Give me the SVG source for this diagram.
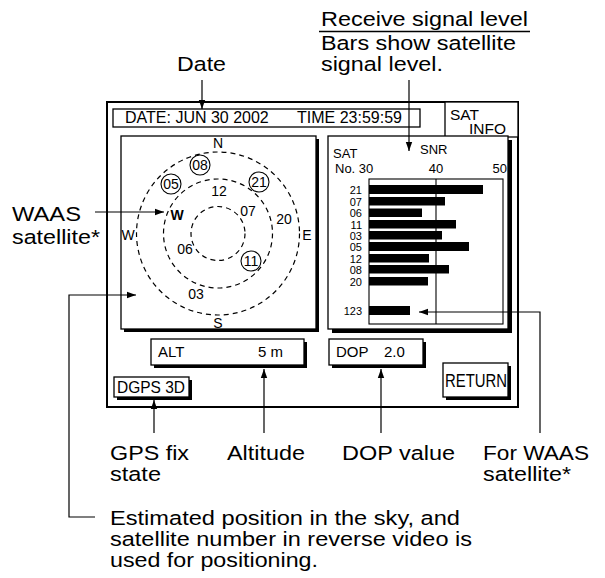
<svg xmlns="http://www.w3.org/2000/svg" width="605" height="578" viewBox="0 0 605 578">
<defs>
<style>
text{font-family:"Liberation Sans",Arial,sans-serif;fill:#000}
.lbl{font-size:20.5px}
.scr{font-size:16px}
.sky{font-size:14px;text-anchor:middle}
.bl{font-size:11px;text-anchor:end}
.hd{font-size:13px}
.frame{fill:#fff;stroke:#000;stroke-width:2}
.box{fill:#fff;stroke:#000;stroke-width:1.3}
.shadow{fill:#000}
.dash{fill:none;stroke:#000;stroke-width:1.2;stroke-dasharray:5 4}
.sat{fill:#fff;stroke:#000;stroke-width:1.1}
.bar{fill:#000}
.conn{fill:none;stroke:#000;stroke-width:1.2}
</style>
<marker id="ah" markerUnits="userSpaceOnUse" markerWidth="10" markerHeight="8" refX="9" refY="4" orient="auto">
<path d="M0,0.8 L9,4 L0,7.2 Z" fill="#000"/>
</marker>
</defs>
<rect width="605" height="578" fill="#fff"/>

<g id="labels">
<text class="lbl" x="177" y="71" textLength="49" lengthAdjust="spacingAndGlyphs">Date</text>
<text class="lbl" x="321" y="26" textLength="207" lengthAdjust="spacingAndGlyphs">Receive signal level</text>
<line x1="319" y1="31.5" x2="530" y2="31.5" stroke="#000" stroke-width="1.3"/>
<text class="lbl" x="321" y="50" textLength="195" lengthAdjust="spacingAndGlyphs">Bars show satellite</text>
<text class="lbl" x="321" y="71" textLength="122" lengthAdjust="spacingAndGlyphs">signal level.</text>
<text class="lbl" x="12" y="221" textLength="69" lengthAdjust="spacingAndGlyphs">WAAS</text>
<text class="lbl" x="12" y="244" textLength="88" lengthAdjust="spacingAndGlyphs">satellite*</text>
<text class="lbl" x="110" y="460" textLength="79" lengthAdjust="spacingAndGlyphs">GPS fix</text>
<text class="lbl" x="110" y="481" textLength="51" lengthAdjust="spacingAndGlyphs">state</text>
<text class="lbl" x="227" y="460" textLength="78" lengthAdjust="spacingAndGlyphs">Altitude</text>
<text class="lbl" x="342" y="460" textLength="113" lengthAdjust="spacingAndGlyphs">DOP value</text>
<text class="lbl" x="483" y="460" textLength="106" lengthAdjust="spacingAndGlyphs">For WAAS</text>
<text class="lbl" x="483" y="481" textLength="88" lengthAdjust="spacingAndGlyphs">satellite*</text>
<text class="lbl" x="110" y="525" textLength="350" lengthAdjust="spacingAndGlyphs">Estimated position in the sky, and</text>
<text class="lbl" x="110" y="546" textLength="362" lengthAdjust="spacingAndGlyphs">satellite number in reverse video is</text>
<text class="lbl" x="110" y="567" textLength="208" lengthAdjust="spacingAndGlyphs">used for positioning.</text>
</g>

<g id="screen">
<rect class="frame" x="107" y="102" width="411" height="305"/>
</g>

<g id="date-box">
<rect class="box" x="113" y="109" width="307" height="18"/>
<text class="scr" x="125" y="123">DATE: JUN 30 2002</text>
<text class="scr" x="297" y="123">TIME 23:59:59</text>
</g>

<g id="sat-info">
<rect class="box" x="445" y="102" width="73" height="35"/>
<text x="450" y="120" style="font-size:15.5px" textLength="29" lengthAdjust="spacingAndGlyphs">SAT</text>
<text x="469" y="134" style="font-size:15.5px" textLength="37" lengthAdjust="spacingAndGlyphs">INFO</text>
</g>

<g id="sky-plot">
<rect class="shadow" x="124" y="139" width="195" height="193"/>
<rect class="box" x="121" y="136" width="195" height="193"/>
<circle class="dash" cx="218" cy="233.5" r="81.5"/>
<circle class="dash" cx="218" cy="233.5" r="54.5"/>
<circle class="dash" cx="218" cy="233.5" r="27"/>
<text class="sky" x="218" y="148">N</text>
<text class="sky" x="218" y="328">S</text>
<text class="sky" x="128" y="240">W</text>
<text class="sky" x="307" y="240">E</text>
<circle class="sat" cx="200" cy="165" r="10"/>
<text class="sky" x="200" y="170">08</text>
<circle class="sat" cx="171" cy="184" r="10"/>
<text class="sky" x="171" y="189">05</text>
<circle class="sat" cx="259" cy="182" r="10"/>
<text class="sky" x="259" y="187">21</text>
<circle class="sat" cx="251" cy="261" r="10"/>
<text class="sky" x="251" y="266">11</text>
<text class="sky" x="219" y="196">12</text>
<text class="sky" x="248" y="216">07</text>
<text class="sky" x="284" y="224">20</text>
<text class="sky" x="177" y="220" font-weight="bold">W</text>
<text class="sky" x="185" y="254">06</text>
<text class="sky" x="196" y="299">03</text>
</g>

<g id="snr-chart">
<rect class="shadow" x="332" y="140" width="180" height="193"/>
<rect class="box" x="328" y="136" width="180" height="193"/>
<text class="hd" x="333" y="158">SAT</text>
<text class="hd" x="335" y="173">No. 30</text>
<text class="hd" x="420" y="154">SNR</text>
<text class="hd" x="436" y="173" text-anchor="middle">40</text>
<text class="hd" x="507" y="173" text-anchor="end">50</text>
<rect x="369" y="179" width="134" height="145" fill="none" stroke="#000" stroke-width="1.1"/>
<line x1="436" y1="179" x2="436" y2="324" stroke="#000" stroke-width="1.1"/>
<rect class="bar" x="369" y="185" width="114" height="9"/>
<rect class="bar" x="369" y="197" width="76" height="8.5"/>
<rect class="bar" x="369" y="208.5" width="53" height="8.5"/>
<rect class="bar" x="369" y="220" width="87" height="8.5"/>
<rect class="bar" x="369" y="231" width="73" height="8.5"/>
<rect class="bar" x="369" y="242" width="100" height="9"/>
<rect class="bar" x="369" y="254" width="60" height="8.5"/>
<rect class="bar" x="369" y="265" width="80" height="8.5"/>
<rect class="bar" x="369" y="277" width="59" height="8.5"/>
<rect class="bar" x="369" y="306" width="41" height="9"/>
<text class="bl" x="362" y="194">21</text>
<text class="bl" x="362" y="205.5">07</text>
<text class="bl" x="362" y="217">06</text>
<text class="bl" x="362" y="228.5">11</text>
<text class="bl" x="362" y="239.5">03</text>
<text class="bl" x="362" y="251">05</text>
<text class="bl" x="362" y="262.5">12</text>
<text class="bl" x="362" y="273.5">08</text>
<text class="bl" x="362" y="285.5">20</text>
<text class="bl" x="362" y="315">123</text>
</g>

<g id="alt-box">
<rect class="shadow" x="154" y="342" width="153" height="26"/>
<rect class="box" x="151" y="339" width="153" height="26"/>
<text x="158" y="357" style="font-size:15px">ALT</text>
<text x="258" y="357" style="font-size:15px">5 m</text>
</g>

<g id="dop-box">
<rect class="shadow" x="332" y="342" width="94" height="26"/>
<rect class="box" x="329" y="339" width="94" height="26"/>
<text x="336" y="357" style="font-size:15px">DOP</text>
<text x="384" y="357" style="font-size:15px">2.0</text>
</g>

<g id="dgps-box">
<rect class="shadow" x="117" y="380" width="75" height="20"/>
<rect class="box" x="114" y="377" width="75" height="20"/>
<text x="117" y="393" style="font-size:17px" textLength="68" lengthAdjust="spacingAndGlyphs">DGPS 3D</text>
</g>

<g id="return-box">
<rect class="shadow" x="446" y="366" width="65" height="34"/>
<rect class="box" x="443" y="363" width="65" height="34"/>
<text x="445" y="387" style="font-size:18px" textLength="62" lengthAdjust="spacingAndGlyphs">RETURN</text>
</g>

<g id="connectors">
<line class="conn" x1="202" y1="80" x2="202" y2="109" marker-end="url(#ah)"/>
<line class="conn" x1="409" y1="80" x2="409" y2="151" marker-end="url(#ah)"/>
<line class="conn" x1="95" y1="212" x2="164" y2="212" marker-end="url(#ah)"/>
<polyline class="conn" points="95,517 69,517 69,295 136,295" marker-end="url(#ah)"/>
<line class="conn" x1="154" y1="433" x2="154" y2="400" marker-end="url(#ah)"/>
<line class="conn" x1="264" y1="433" x2="264" y2="369" marker-end="url(#ah)"/>
<line class="conn" x1="381" y1="433" x2="381" y2="369" marker-end="url(#ah)"/>
<polyline class="conn" points="540,433 540,312 419,312" marker-end="url(#ah)"/>
</g>
</svg>
